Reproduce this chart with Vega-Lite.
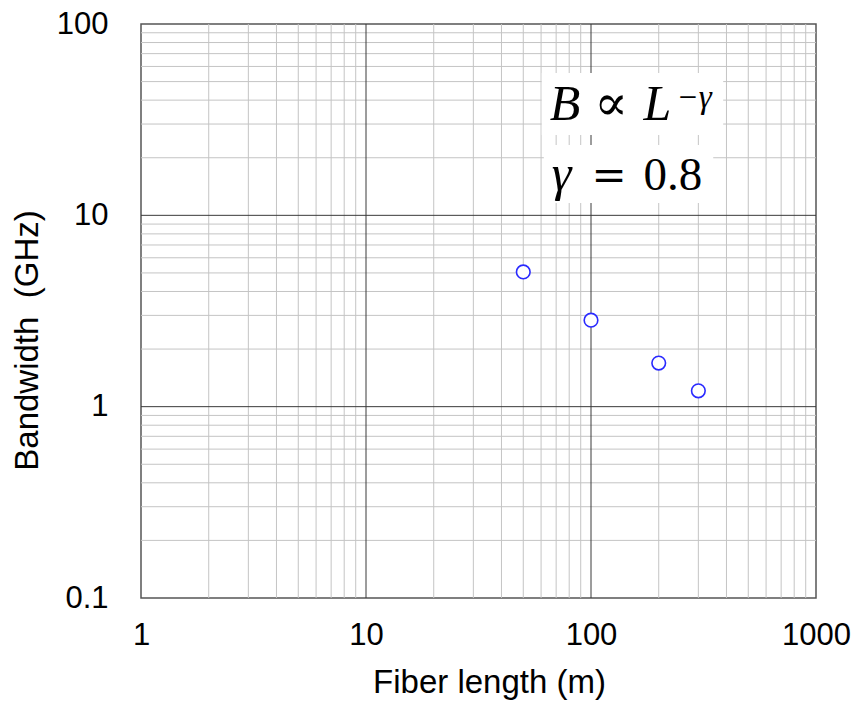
{
  "$schema": "https://vega.github.io/schema/vega-lite/v6.json",
  "width": 675,
  "height": 574,
  "autosize": "none",
  "padding": {"left": 141, "top": 24, "right": 39, "bottom": 110},
  "background": "white",
  "config": {
    "view": {"stroke": "#555555", "strokeWidth": 1.5},
    "axis": {"grid": false, "ticks": false, "domain": false, "labelFont": "Liberation Sans", "titleFont": "Liberation Sans", "labelColor": "#000000", "titleColor": "#000000", "titleFontWeight": "normal", "labelFontSize": 31, "titleFontSize": 33}
  },
  "layer": [
    {
      "data": {"values": [
        {"length": 2}, {"length": 3}, {"length": 4}, {"length": 5}, {"length": 6}, {"length": 7}, {"length": 8}, {"length": 9},
        {"length": 20}, {"length": 30}, {"length": 40}, {"length": 50}, {"length": 60}, {"length": 70}, {"length": 80}, {"length": 90},
        {"length": 200}, {"length": 300}, {"length": 400}, {"length": 500}, {"length": 600}, {"length": 700}, {"length": 800}, {"length": 900}
      ]},
      "mark": {"type": "rule", "color": "#c4c4c4", "strokeWidth": 1},
      "encoding": {
        "x": {"field": "length", "type": "quantitative", "scale": {"type": "log", "domain": [1, 1000], "nice": false}}
      }
    },
    {
      "data": {"values": [
        {"bandwidth": 0.2}, {"bandwidth": 0.3}, {"bandwidth": 0.4}, {"bandwidth": 0.5}, {"bandwidth": 0.6}, {"bandwidth": 0.7}, {"bandwidth": 0.8}, {"bandwidth": 0.9},
        {"bandwidth": 2}, {"bandwidth": 3}, {"bandwidth": 4}, {"bandwidth": 5}, {"bandwidth": 6}, {"bandwidth": 7}, {"bandwidth": 8}, {"bandwidth": 9},
        {"bandwidth": 20}, {"bandwidth": 30}, {"bandwidth": 40}, {"bandwidth": 50}, {"bandwidth": 60}, {"bandwidth": 70}, {"bandwidth": 80}, {"bandwidth": 90}
      ]},
      "mark": {"type": "rule", "color": "#c4c4c4", "strokeWidth": 1},
      "encoding": {
        "y": {"field": "bandwidth", "type": "quantitative", "scale": {"type": "log", "domain": [0.1, 100], "nice": false}}
      }
    },
    {
      "data": {"values": [{"length": 10}, {"length": 100}]},
      "mark": {"type": "rule", "color": "#3a3a3a", "strokeWidth": 1},
      "encoding": {
        "x": {"field": "length", "type": "quantitative", "scale": {"type": "log", "domain": [1, 1000], "nice": false}}
      }
    },
    {
      "data": {"values": [{"bandwidth": 1}, {"bandwidth": 10}]},
      "mark": {"type": "rule", "color": "#3a3a3a", "strokeWidth": 1},
      "encoding": {
        "y": {"field": "bandwidth", "type": "quantitative", "scale": {"type": "log", "domain": [0.1, 100], "nice": false}}
      }
    },
    {
      "data": {"values": [
        {"length": 60.4, "length2": 386.9, "bandwidth": 55.5, "bandwidth2": 26.3},
        {"length": 61.7, "length2": 349.3, "bandwidth": 23.3, "bandwidth2": 11.6}
      ]},
      "mark": {"type": "rect", "color": "white"},
      "encoding": {
        "x": {"field": "length", "type": "quantitative", "scale": {"type": "log", "domain": [1, 1000], "nice": false}},
        "x2": {"field": "length2"},
        "y": {"field": "bandwidth", "type": "quantitative", "scale": {"type": "log", "domain": [0.1, 100], "nice": false}},
        "y2": {"field": "bandwidth2"}
      }
    },
    {
      "data": {"values": [
        {"length": 50, "bandwidth": 5.06},
        {"length": 100, "bandwidth": 2.83},
        {"length": 200, "bandwidth": 1.69},
        {"length": 300, "bandwidth": 1.21}
      ]},
      "mark": {"type": "point", "shape": "circle", "size": 185, "filled": false, "fill": "white", "fillOpacity": 1, "stroke": "#2a2aff", "strokeWidth": 1.6, "opacity": 1},
      "encoding": {
        "x": {"field": "length", "type": "quantitative", "scale": {"type": "log", "domain": [1, 1000], "nice": false},
          "axis": {"values": [1, 10, 100, 1000], "format": "~g", "title": "Fiber length (m)", "labelPadding": 22, "titlePadding": 16, "titleX": 348, "labelFlush": false, "labelOverlap": false}},
        "y": {"field": "bandwidth", "type": "quantitative", "scale": {"type": "log", "domain": [0.1, 100], "nice": false},
          "axis": {"values": [0.1, 1, 10, 100], "format": "~g", "title": "Bandwidth\u00a0\u00a0(GHz)", "labelPadding": 33, "titlePadding": 12, "titleY": 316, "labelFlush": false, "labelOverlap": false}}
      }
    },
    {
      "data": {"values": [{"length": 65.6, "bandwidth": 31.5, "txt": "B"}, {"length": 171, "bandwidth": 31.5, "txt": "L"}, {"length": 66.9, "bandwidth": 13.58, "txt": "γ"}]},
      "mark": {"type": "text", "font": "Liberation Serif", "fontStyle": "italic", "fontSize": 50, "align": "left", "baseline": "alphabetic", "color": "black"},
      "encoding": {
        "x": {"field": "length", "type": "quantitative", "scale": {"type": "log", "domain": [1, 1000], "nice": false}},
        "y": {"field": "bandwidth", "type": "quantitative", "scale": {"type": "log", "domain": [0.1, 100], "nice": false}},
        "text": {"field": "txt"}
      }
    },
    {
      "data": {"values": [{"length": 103.5, "bandwidth": 31.5, "txt": "∝"}]},
      "mark": {"type": "text", "font": "DejaVu Serif", "fontSize": 50, "align": "left", "baseline": "alphabetic", "color": "black"},
      "encoding": {
        "x": {"field": "length", "type": "quantitative", "scale": {"type": "log", "domain": [1, 1000], "nice": false}},
        "y": {"field": "bandwidth", "type": "quantitative", "scale": {"type": "log", "domain": [0.1, 100], "nice": false}},
        "text": {"field": "txt"}
      }
    },
    {
      "data": {"values": [{"length": 240, "bandwidth": 36.4, "txt": "−γ"}]},
      "mark": {"type": "text", "font": "Liberation Serif", "fontStyle": "italic", "fontSize": 33, "align": "left", "baseline": "alphabetic", "color": "black"},
      "encoding": {
        "x": {"field": "length", "type": "quantitative", "scale": {"type": "log", "domain": [1, 1000], "nice": false}},
        "y": {"field": "bandwidth", "type": "quantitative", "scale": {"type": "log", "domain": [0.1, 100], "nice": false}},
        "text": {"field": "txt"}
      }
    },
    {
      "data": {"values": [{"length": 100.5, "bandwidth": 13.58, "txt": "="}]},
      "mark": {"type": "text", "font": "DejaVu Serif", "fontSize": 42, "align": "left", "baseline": "alphabetic", "color": "black"},
      "encoding": {
        "x": {"field": "length", "type": "quantitative", "scale": {"type": "log", "domain": [1, 1000], "nice": false}},
        "y": {"field": "bandwidth", "type": "quantitative", "scale": {"type": "log", "domain": [0.1, 100], "nice": false}},
        "text": {"field": "txt"}
      }
    },
    {
      "data": {"values": [{"length": 171, "bandwidth": 13.58, "txt": "0.8"}]},
      "mark": {"type": "text", "font": "Liberation Serif", "fontSize": 47, "align": "left", "baseline": "alphabetic", "color": "black"},
      "encoding": {
        "x": {"field": "length", "type": "quantitative", "scale": {"type": "log", "domain": [1, 1000], "nice": false}},
        "y": {"field": "bandwidth", "type": "quantitative", "scale": {"type": "log", "domain": [0.1, 100], "nice": false}},
        "text": {"field": "txt"}
      }
    }
  ]
}
